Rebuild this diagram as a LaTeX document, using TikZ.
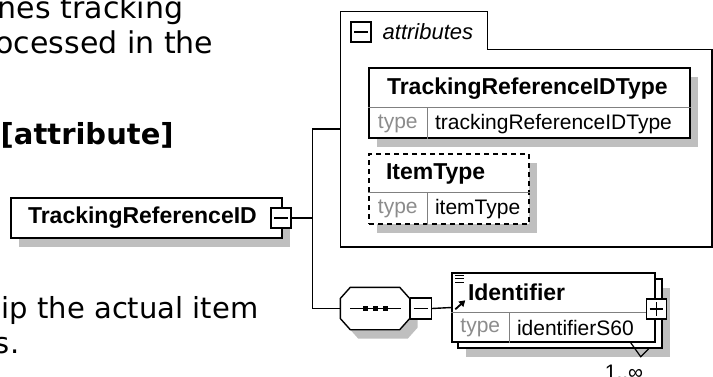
\documentclass[tikz,border=0pt]{standalone}
\usepackage{fontspec}
\setmainfont{Liberation Sans}
\newfontfamily\prosefont{DejaVu Sans}
\usetikzlibrary{positioning,calc,shadows,arrows.meta}

\begin{document}
\begin{tikzpicture}[x=1pt,y=-1pt,line width=1.4pt,
  shade/.style={drop shadow={shadow xshift=8pt,shadow yshift=-9pt,fill=black!25,opacity=1}},
  elem/.style={draw,fill=white,shade,inner sep=0,minimum height=70pt},
  pbox/.style={draw,fill=white,inner sep=0,minimum size=20pt},
  title/.style={font=\fontsize{23}{26}\selectfont\bfseries,inner sep=0,anchor=west},
  val/.style={font=\fontsize{21}{24}\selectfont,inner sep=0,anchor=west},
  tlab/.style={font=\fontsize{21}{24}\selectfont,text=black!45,inner sep=0},
  prose/.style={font=\prosefont\fontsize{29}{35}\selectfont,inner sep=0},
  div/.style={draw=black!50,line width=1.2pt}]
\useasboundingbox (0,0) rectangle (713,376);

% text around the picture
\node[prose,anchor=base east,font=\prosefont\fontsize{30}{35}\selectfont] (p1) at (184,18) {nes tracking};
\node[prose,anchor=base east,font=\prosefont\fontsize{30}{35}\selectfont] (p2) at (214,53) {ocessed in the};
\node[prose,anchor=base west,font=\prosefont\fontsize{29}{35}\selectfont\bfseries] (p3) at (0,144) {[attribute]};
\node[prose,anchor=base east] (p4) at (259,318) {ip the actual item};
\node[prose,anchor=base east] (p5) at (20,353) {s.};

% element
\node[draw,fill=white,shade,inner sep=0,minimum width=271pt,minimum height=40pt] (ref) at (146.5,218) {};
\node[title] at ($(ref.west)+(17,0)$) {TrackingReferenceID};
\node[pbox] (refminus) at (281,218) {};
\draw ($(refminus.west)+(4,0)$) -- ($(refminus.east)+(-4,0)$);

% attributes group
\node[inner sep=0,minimum width=370pt,minimum height=234pt] (attrs) at (526,129) {};
\draw[line width=1.6pt] (attrs.south west) -- (attrs.north west) -- ++(147,0) -- ++(0,38) -| (attrs.south east) -- cycle;
\node[pbox] (tabminus) at (361,32) {};
\draw ($(tabminus.west)+(4,0)$) -- ($(tabminus.east)+(-4,0)$);
\node[val,font=\fontsize{22}{24}\selectfont\itshape] at (382,32) {attributes};

\node[elem,minimum width=321pt] (trt) at (529.5,103) {};
\draw[div] ($(trt.north west)+(0,40)$) -- ($(trt.north east)+(0,40)$);
\draw[div] ($(trt.north west)+(59,40)$) -- ($(trt.south west)+(59,0)$);
\node[title] at ($(trt.north west)+(18,21)$) {TrackingReferenceIDType};
\node[tlab] at ($(trt.south west)+(29.5,-15)$) {type};
\node[val] at ($(trt.south west)+(66,-15)$) {trackingReferenceIDType};

\node[elem,dash pattern=on 5pt off 4pt,minimum width=160pt] (itm) at (449,189) {};
\draw[div] ($(itm.north west)+(0,39)$) -- ($(itm.north east)+(0,39)$);
\draw[div] ($(itm.north west)+(59,39)$) -- ($(itm.south west)+(59,0)$);
\node[title] at ($(itm.north west)+(17,20.5)$) {ItemType};
\node[tlab] at ($(itm.south west)+(29.5,-15.5)$) {type};
\node[val] at ($(itm.south west)+(66,-15.5)$) {itemType};

% sequence
\node[inner sep=0,minimum width=68pt,minimum height=41pt] (seq) at (375,308.5) {};
\path[draw,fill=white,shade] ($(seq.west)+(0,-10)$) -- ($(seq.north west)+(10,0)$) -- ($(seq.north east)+(-10,0)$) -- ($(seq.east)+(0,-10)$)
  -- ($(seq.east)+(0,10)$) -- ($(seq.south east)+(-10,0)$) -- ($(seq.south west)+(10,0)$) -- ($(seq.west)+(0,10)$) -- cycle;
\draw ($(seq.west)+(10,0)$) -- ($(seq.east)+(-9,0)$);
\foreach \dx in {-10,0,10}
  \fill ($(seq.center)+(\dx-2.5,-2.5)$) rectangle +(5,5);
\node[pbox,minimum size=21pt,anchor=west] (seqminus) at (seq.east) {};
\draw ($(seqminus.west)+(4,0)$) -- ($(seqminus.east)+(-4,0)$);

% Identifier (repeating)
\node[draw,fill=white,shade,inner sep=0,minimum width=204pt,minimum height=69pt] (idfback) at (560,313.5) {};
\node[draw,fill=white,inner sep=0,minimum width=203pt,minimum height=69pt] (idf) at (553.5,307.5) {};
\draw[div] ($(idf.north west)+(0,40)$) -- ($(idf.north east)+(0,40)$);
\draw[div] ($(idf.north west)+(58,40)$) -- ($(idf.south west)+(58,0)$);
\foreach \yy in {0,3.5,7}
  \draw[line width=0.9pt] ($(idf.north west)+(4,3+\yy)$) -- +(9,0);
\draw[-{Triangle[length=6pt,width=7pt]},line width=1.8pt] ($(idf.north west)+(4,37)$) -- +(10,-9);
\node[title] at ($(idf.north west)+(16,20)$) {Identifier};
\node[tlab] at ($(idf.south west)+(29,-14.5)$) {type};
\node[val] at ($(idf.south west)+(65,-14.5)$) {identifierS60};
\node[pbox] (idfplus) at ($(idf.east)+(0.5,1.5)$) {};
\draw ($(idfplus.west)+(4,0)$) -- ($(idfplus.east)+(-4,0)$);
\draw ($(idfplus.north)+(0,4)$) -- ($(idfplus.south)+(0,-4)$);
\draw[line width=1.2pt] ($(idf.south east)+(-25,0)$) -- ($(idf.south east)+(-15,14)$) -- ($(idf.south east)+(-7,6)$);
\node[val,anchor=base] (card) at (624,379) {1..∞};

% connectors
\coordinate (fork) at ($(refminus.east)+(21,0)$);
\draw (refminus.east) -- (fork);
\draw (attrs.west) -| (fork) |- (seq.west);
\draw (seqminus.east) -- (idf.west);
\end{tikzpicture}
\end{document}
